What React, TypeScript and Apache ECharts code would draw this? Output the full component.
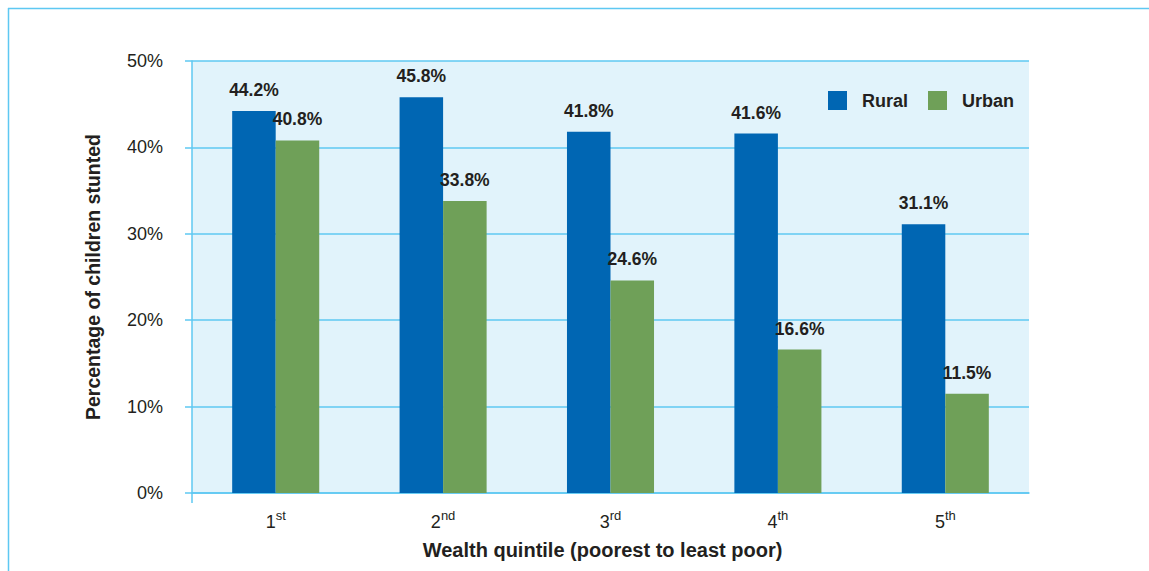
import React, { useEffect, useRef } from "react";
import * as echarts from "echarts";

const categories = ["1|st", "2|nd", "3|rd", "4|th", "5|th"];
const ruralValues = [44.2, 45.8, 41.8, 41.6, 31.1];
const urbanValues = [40.8, 33.8, 24.6, 16.6, 11.5];
const seriesNames = ["Rural", "Urban"];
const yAxisTitle = "Percentage of children stunted";
const xAxisTitle = "Wealth quintile (poorest to least poor)";

const TEXT = "#231f20";
const LINE = "#5ec8f2";
const FONT = "Liberation Sans, Arial, sans-serif";

export default function App() {
  const ref = useRef<HTMLDivElement>(null);
  useEffect(() => {
    if (!ref.current) return;
    const chart = echarts.init(ref.current, undefined, { renderer: "svg" });
    const labelStyle = {
      show: true,
      position: "top",
      distance: 12,
      formatter: (p: any) => p.value.toFixed(1) + "%",
      fontFamily: FONT,
      fontWeight: "bold",
      fontSize: 17.5,
      color: TEXT,
    };
    chart.setOption({
      animation: false,
      textStyle: { fontFamily: FONT },
      grid: {
        left: 192,
        right: 120,
        top: 61,
        bottom: 78,
        show: true,
        backgroundColor: "#e1f3fb",
        borderWidth: 0,
      },
      legend: {
        data: seriesNames,
        right: 135,
        top: 91,
        padding: 0,
        itemWidth: 19,
        itemHeight: 19,
        itemGap: 20,
        icon: "rect",
        textStyle: { fontSize: 18, fontWeight: "bold", color: TEXT, padding: [0, 0, 0, 10] },
      },
      xAxis: {
        type: "category",
        data: categories,
        name: xAxisTitle,
        nameLocation: "middle",
        nameGap: 47,
        nameTextStyle: { fontSize: 20, fontWeight: "bold", color: TEXT, padding: [0, 16, 0, 0] },
        axisLine: { lineStyle: { color: LINE, width: 1.5 } },
        axisTick: { show: false },
        axisLabel: {
          margin: 16,
          formatter: (v: string) => {
            const [n, s] = v.split("|");
            return `{n|${n}}{s|${s}}`;
          },
          rich: {
            n: { fontSize: 18, color: TEXT, fontFamily: FONT },
            s: {
              fontSize: 13,
              color: TEXT,
              verticalAlign: "top",
              padding: [0, 0, 12, 0],
              fontFamily: FONT,
            },
          },
        },
      },
      yAxis: {
        type: "value",
        min: 0,
        max: 50,
        interval: 10,
        name: yAxisTitle,
        nameLocation: "middle",
        nameGap: 89,
        nameTextStyle: { fontSize: 19.5, fontWeight: "bold", color: TEXT },
        axisLine: { show: true, lineStyle: { color: LINE, width: 1.5 } },
        axisTick: { show: true, length: 7, lineStyle: { color: LINE, width: 1.5 } },
        axisLabel: { formatter: "{value}%", fontSize: 18, color: TEXT, margin: 29 },
        splitLine: { lineStyle: { color: LINE, width: 1.5 } },
      },
      series: [
        {
          name: seriesNames[0],
          type: "bar",
          data: ruralValues,
          barGap: "0%",
          barCategoryGap: "48%",
          itemStyle: { color: "#0066b3" },
          label: labelStyle,
        },
        {
          name: seriesNames[1],
          type: "bar",
          data: urbanValues,
          itemStyle: { color: "#6fa058" },
          label: labelStyle,
        },
      ],
      graphic: [
        {
          type: "line",
          shape: { x1: 8.5, y1: 8, x2: 8.5, y2: 571 },
          style: { stroke: LINE, lineWidth: 1.5 },
        },
        {
          type: "line",
          shape: { x1: 8, y1: 8.5, x2: 1149, y2: 8.5 },
          style: { stroke: LINE, lineWidth: 1.5 },
        },
        {
          type: "line",
          shape: { x1: 192, y1: 493, x2: 192, y2: 503 },
          style: { stroke: LINE, lineWidth: 1.5 },
        },
      ],
    });
    return () => chart.dispose();
  }, []);
  return (
    <div
      ref={ref}
      style={{ position: "absolute", left: 0, top: 0, width: 1149, height: 571, background: "#fff" }}
    />
  );
}
